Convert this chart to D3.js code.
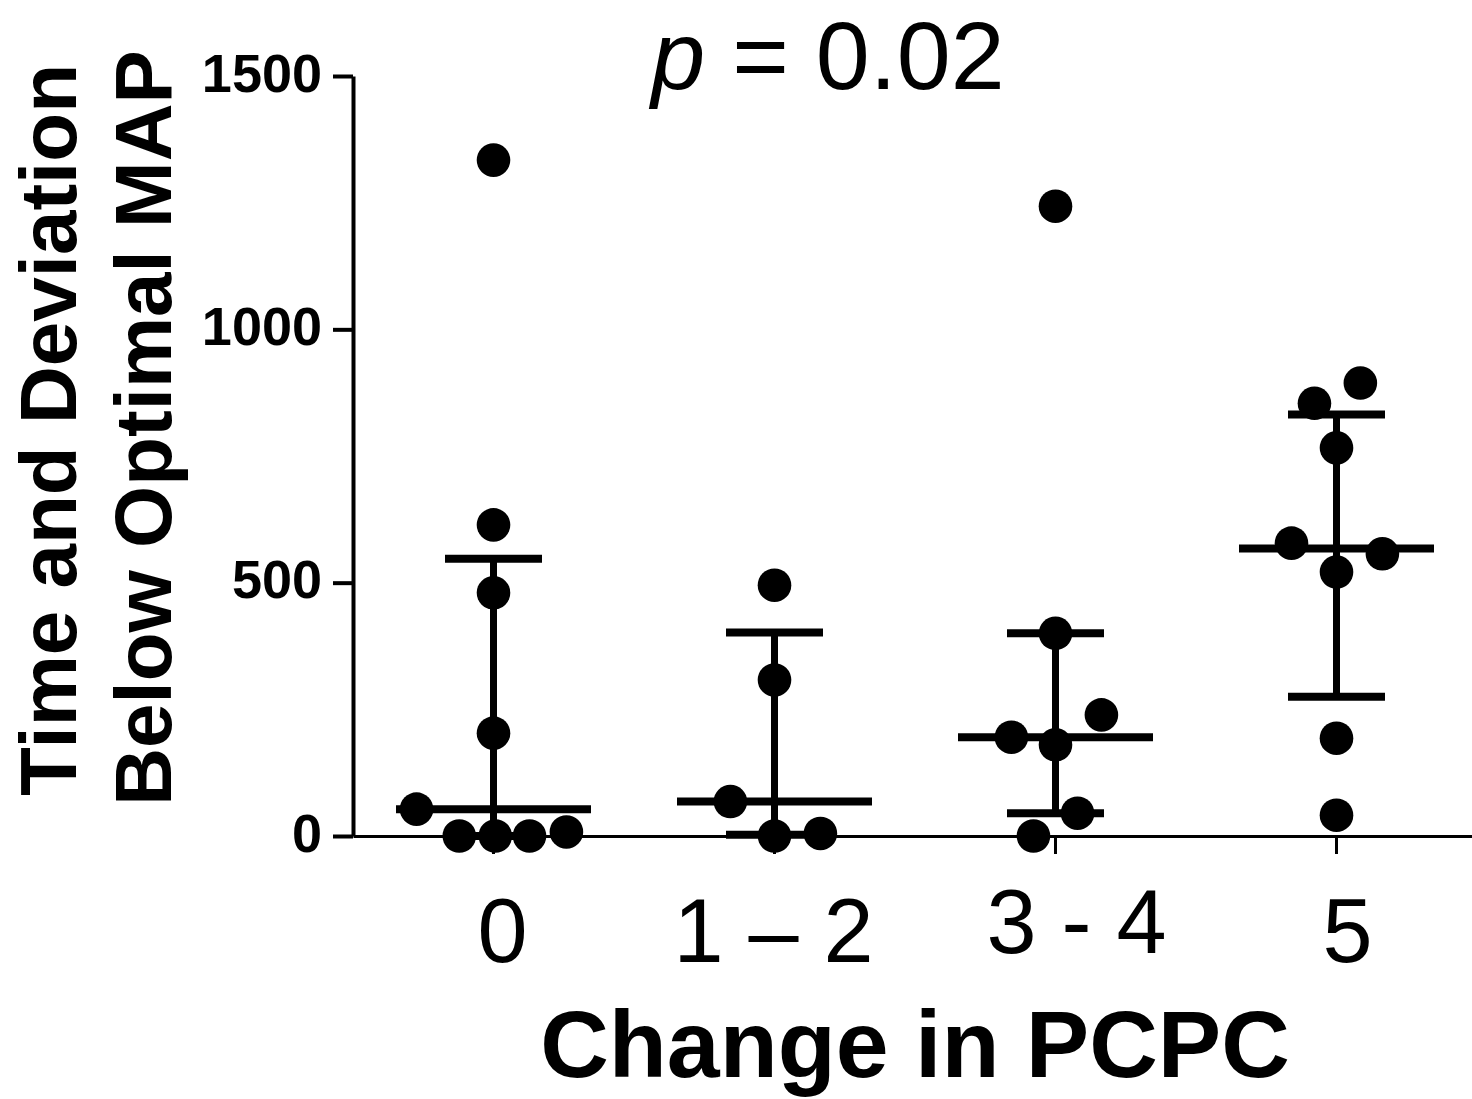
<!DOCTYPE html>
<html>
<head>
<meta charset="utf-8">
<script src="https://cdn.jsdelivr.net/npm/d3@7"></script>
<style>
  html, body { margin: 0; padding: 0; background: #fff; }
  svg { display: block; font-family: Arial, "Liberation Sans", sans-serif; }
</style>
</head>
<body>
<svg id="chart" width="1472" height="1099"></svg>
<script>
// Change in PCPC categories
const categories = ["0", "1 – 2", "3 - 4", "5"];

// Time and deviation below optimal MAP, one array per category
const valuesPCPC0 = [1334, 614, 480, 203, 53, 0, 0, 0, 8];
const valuesPCPC12 = [495, 308, 68, 0, 5];
const valuesPCPC34 = [1243, 400, 239, 195, 180, 45, 0];
const valuesPCPC5 = [894, 854, 766, 578, 557, 521, 193, 41];

// Horizontal spread of overlapping points (in column units)
const spreadPCPC0 = [0, 0, 0, 0, -1.71, -0.76, 0.04, 0.8, 1.62];
const spreadPCPC12 = [0, 0, -0.98, 0, 1.02];
const spreadPCPC34 = [0, 0, 1.02, -0.98, 0, 0.49, -0.49];
const spreadPCPC5 = [0.53, -0.49, 0, -1, 1.02, 0, 0, 0];

const yTicks = [0, 500, 1000, 1500];
const pLabel = "0.02";

const groups = [
  { cat: categories[0], values: valuesPCPC0, spread: spreadPCPC0 },
  { cat: categories[1], values: valuesPCPC12, spread: spreadPCPC12 },
  { cat: categories[2], values: valuesPCPC34, spread: spreadPCPC34 },
  { cat: categories[3], values: valuesPCPC5, spread: spreadPCPC5 }
];

// quantile with the (n+1)p rule used for median / interquartile range
function quantile(sorted, p) {
  const n = sorted.length;
  const pos = (n + 1) * p;
  const lo = Math.floor(pos);
  const frac = pos - lo;
  if (lo < 1) return sorted[0];
  if (lo >= n) return sorted[n - 1];
  return sorted[lo - 1] + frac * (sorted[lo] - sorted[lo - 1]);
}

const svg = d3.select("#chart");

const x = d3.scaleBand().domain(categories).range([353, 1477]);
const y = d3.scaleLinear().domain([0, 1500]).range([836, 76]);
const cx = c => x(c) + x.bandwidth() / 2;

const colUnit = 45;
const dotR = 16.8;
const medianHalf = 97.5;
const capHalf = 48.5;

// y axis
const yAxis = svg.append("g")
  .attr("transform", "translate(353,0)")
  .call(d3.axisLeft(y).tickValues(yTicks).tickSize(20).tickSizeOuter(0).tickPadding(11).tickFormat(d3.format("d")));
yAxis.select(".domain").attr("stroke", "#000").attr("stroke-width", 4);
yAxis.selectAll(".tick line").attr("stroke", "#000").attr("stroke-width", 4);
yAxis.selectAll(".tick text")
  .attr("fill", "#000")
  .attr("font-size", 54)
  .attr("font-weight", "bold")
  .attr("font-family", "Arial, 'Liberation Sans', sans-serif")
  .attr("dy", "0.28em");

// x axis
const labelShift = { "0": [9, 0], "1 – 2": [-1, 0], "3 - 4": [21, -9], "5": [11, 0] };
const xAxis = svg.append("g")
  .attr("transform", "translate(0,836)")
  .call(d3.axisBottom(x).tickSize(18).tickSizeOuter(0).tickPadding(44));
xAxis.select(".domain").attr("stroke", "#000").attr("stroke-width", 3);
xAxis.selectAll(".tick line").attr("stroke", "#000").attr("stroke-width", 3);
xAxis.selectAll(".tick text")
  .attr("fill", "#000")
  .attr("font-size", 90)
  .attr("font-family", "Arial, 'Liberation Sans', sans-serif")
  .attr("dx", d => labelShift[d][0])
  .attr("transform", d => `translate(0,${labelShift[d][1]})`);

// median and interquartile range
const summary = svg.append("g");
groups.forEach(g => {
  const s = g.values.slice().sort(d3.ascending);
  const med = quantile(s, 0.5);
  const q1 = quantile(s, 0.25);
  const q3 = quantile(s, 0.75);
  const c = cx(g.cat);
  summary.append("line")
    .attr("x1", c).attr("x2", c).attr("y1", y(q1)).attr("y2", y(q3))
    .attr("stroke", "#000").attr("stroke-width", 7);
  [q1, q3].forEach(q => {
    summary.append("line")
      .attr("x1", c - capHalf).attr("x2", c + capHalf).attr("y1", y(q)).attr("y2", y(q))
      .attr("stroke", "#000").attr("stroke-width", 8);
  });
  summary.append("line")
    .attr("x1", c - medianHalf).attr("x2", c + medianHalf).attr("y1", y(med)).attr("y2", y(med))
    .attr("stroke", "#000").attr("stroke-width", 8);
});

// individual points
const pts = [];
groups.forEach(g => g.values.forEach((v, i) => pts.push({ cat: g.cat, v, off: g.spread[i] })));
svg.append("g").selectAll("circle")
  .data(pts)
  .join("circle")
  .attr("cx", d => cx(d.cat) + d.off * colUnit)
  .attr("cy", d => y(d.v))
  .attr("r", dotR)
  .attr("fill", "#000");

// y axis title
const yTitle = svg.append("g")
  .attr("font-weight", "bold")
  .attr("font-size", 80)
  .attr("text-anchor", "middle")
  .attr("fill", "#000");
yTitle.append("text")
  .attr("transform", "translate(76,430) rotate(-90)")
  .text("Time and Deviation");
yTitle.append("text")
  .attr("transform", "translate(171,428) rotate(-90)")
  .text("Below Optimal MAP");

// x axis title
svg.append("text")
  .attr("x", 915).attr("y", 1077)
  .attr("text-anchor", "middle")
  .attr("font-weight", "bold")
  .attr("font-size", 95)
  .attr("fill", "#000")
  .text("Change in PCPC");

// p value
const pt = svg.append("text")
  .attr("x", 828).attr("y", 89)
  .attr("text-anchor", "middle")
  .attr("font-size", 97)
  .attr("fill", "#000");
pt.append("tspan").attr("font-style", "italic").text("p");
pt.append("tspan").text(" = " + pLabel);
</script>
</body>
</html>
